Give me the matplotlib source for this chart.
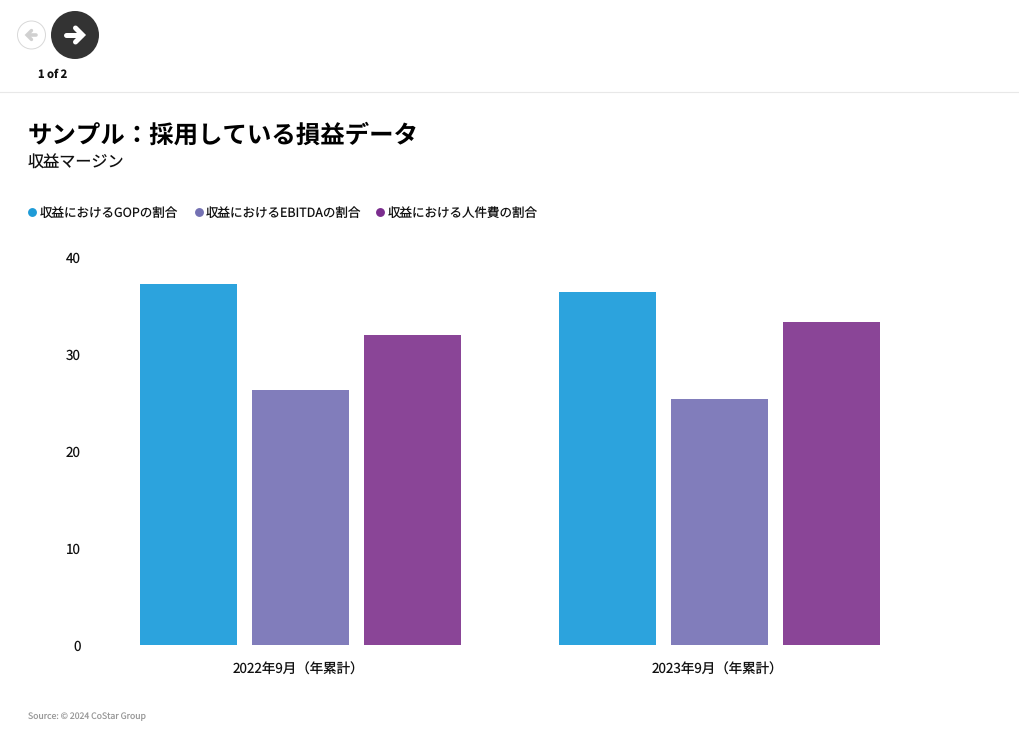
import matplotlib.pyplot as plt
from matplotlib.patches import Circle
import numpy as np

plt.rcParams['font.family'] = ['Noto Sans CJK JP', 'DejaVu Sans']
plt.rcParams['text.hinting'] = 'no_hinting'
plt.rcParams['text.hinting_factor'] = 1

categories = ['2022年9月（年累計）', '2023年9月（年累計）']
series_names = ['収益におけるGOPの割合', '収益におけるEBITDAの割合', '収益における人件費の割合']
gop = [37.25, 36.4]
ebitda = [26.3, 25.4]
labor = [32.0, 33.3]
yticks = [0, 10, 20, 30, 40]
bar_colors = ['#2ca3dd', '#817dbb', '#8a4597']
legend_colors = ['#1f9bd7', '#7471b3', '#7b2d8e']

W, H = 1020, 743
fig = plt.figure(figsize=(W / 100, H / 100), dpi=100)

# overlay in pixel coords for the header stuff
bg = fig.add_axes([0, 0, 1, 1])
bg.set_xlim(0, W)
bg.set_ylim(H, 0)
bg.axis('off')
bg.plot([0, W], [92.2, 92.2], color='#e8e8e8', lw=0.8)
bg.add_patch(Circle((31.5, 35), 14, fc='white', ec='#d8d8d8', lw=0.7))
bg.plot([28, 36.5], [35, 35], color='#d0d0d0', lw=2.6, solid_capstyle='round')
bg.plot([31.5, 27, 31.5], [30.5, 35, 39.5], color='#d0d0d0', lw=2.4, solid_capstyle='round', solid_joinstyle='miter')
bg.add_patch(Circle((75, 35), 24, fc='#333333', ec='none'))
bg.plot([66.5, 81], [35, 35], color='white', lw=3.6, solid_capstyle='round')
bg.plot([75.5, 82.5, 75.5], [28, 35, 42], color='white', lw=3.6, solid_capstyle='round', solid_joinstyle='miter')
bg.text(53, 74, '1 of 2', fontsize=8, fontweight='bold', ha='center', va='center', color='#111111')
bg.text(28, 135.5, 'サンプル：採用している損益データ', fontsize=17.6, fontweight='bold', va='center', color='black')
bg.text(27.5, 162.5, '収益マージン', fontsize=11.6, va='center', color='#111111')
bg.text(28, 716.5, 'Source: © 2024 CoStar Group', fontsize=6.25, va='center', color='#999999')

# legend by hand so all labels sit on one baseline
for mx, tx, name, c in zip([32.5, 199, 380.5], [39.5, 206, 388], series_names, legend_colors):
    bg.plot([mx], [211.5], ls='', marker='o', ms=6.4, color=c, mew=0)
    bg.text(tx, 217, name, fontsize=9, va='baseline', color='#111111')

# chart
ax = fig.add_axes([91 / W, 1 - 645 / H, 838 / W, (645 - 257.5) / H])
x = np.arange(len(categories))
step, width = 0.2673, 0.2327
for i, vals in enumerate([gop, ebitda, labor]):
    ax.bar(x + (i - 1) * step, vals, width, color=bar_colors[i])
ax.set_xlim(-0.5, 1.5)
ax.set_ylim(0, 40)
ax.set_yticks(yticks)
ax.set_xticks(x - 0.004, categories)
ax.tick_params(length=0, labelsize=9.7, labelcolor='#111111')
ax.tick_params(axis='x', pad=13)
ax.tick_params(axis='y', pad=7.5)
for s in ax.spines.values():
    s.set_visible(False)

fig.savefig('out.png', dpi=100)
